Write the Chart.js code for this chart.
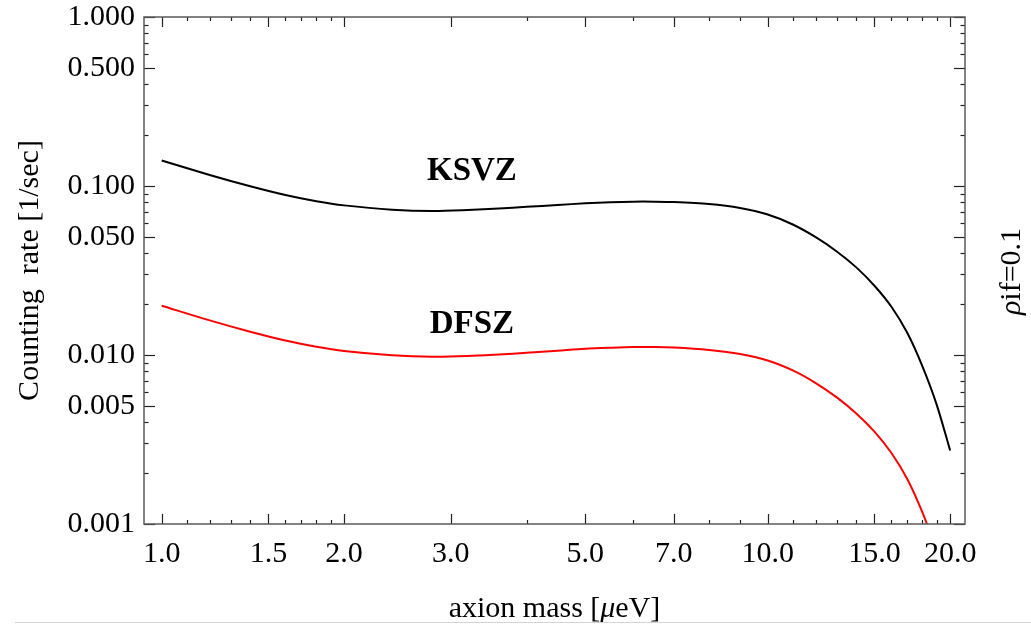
<!DOCTYPE html>
<html>
<head>
<meta charset="utf-8">
<title>Counting rate vs axion mass</title>
<script src="https://cdn.jsdelivr.net/npm/chart.js@4.4.1/dist/chart.umd.min.js"></script>
<style>
  html, body { margin: 0; padding: 0; background: #fff; }
  #wrap { position: relative; width: 1031px; height: 625px; overflow: hidden; }
  #rule { position: absolute; left: 15px; right: 0; top: 622px; border-top: 1px solid #d4d4d4; }
</style>
</head>
<body>
<div id="wrap">
  <canvas id="chart-rate" width="1031" height="625"></canvas>
  <div id="rule"></div>
</div>
<script>
'use strict';

// axion mass [ueV]
const MASS = [1.0, 1.2, 1.4, 1.6, 1.8, 2.0, 2.4, 2.8, 3.2, 3.6, 4.0, 4.5, 5.0, 5.5, 6.0, 6.5, 7.0,
              8.0, 9.0, 10, 11, 12, 13, 14, 15, 16, 17, 18, 19, 20];

// counting rate [1/sec]
const KSVZ = [0.1416, 0.1163, 0.0997, 0.0885, 0.0813, 0.0768, 0.0724, 0.0711, 0.0721, 0.0736,
              0.0753, 0.0772, 0.0790, 0.0802, 0.0808, 0.0808, 0.0804, 0.0782, 0.0741, 0.0678,
              0.0592, 0.0498, 0.0410, 0.0330, 0.0257, 0.0193, 0.01348, 0.00857, 0.00509, 0.00272];
const DFSZ = [0.01957, 0.01602, 0.01373, 0.01218, 0.01119, 0.01057, 0.00997, 0.00977, 0.00986, 0.01007,
              0.01030, 0.01060, 0.01088, 0.01104, 0.01115, 0.01115, 0.01107, 0.01070, 0.01014, 0.00928,
              0.00810, 0.00682, 0.00561, 0.00451, 0.00352, 0.00263, 0.00184, 0.00117, 0.000696, null];

// axis ranges and ticks
const X_RANGE = [0.935, 21.16];
const Y_RANGE = [0.001, 1];
const X_TICKS = [1.0, 1.5, 2.0, 3.0, 5.0, 7.0, 10, 15, 20];
const X_MINOR = [1.1, 1.2, 1.3, 1.4, 1.6, 1.7, 1.8, 1.9, 4, 6, 8, 9, 11, 12, 13, 14, 16, 17, 18, 19];
const Y_TICKS = [0.001, 0.005, 0.01, 0.05, 0.1, 0.5, 1];
const Y_MINOR = [0.002, 0.003, 0.004, 0.006, 0.007, 0.008, 0.009, 0.02, 0.03, 0.04,
                 0.06, 0.07, 0.08, 0.09, 0.2, 0.3, 0.4, 0.6, 0.7, 0.8, 0.9];

// curve names, placed in data coordinates [mass, rate]
const NAMES = [['KSVZ', 3.25, 0.122], ['DFSZ', 3.25, 0.0152]];

(() => {
  const SERIF = '"Liberation Serif", "Times New Roman", serif';

  // draw a run of differently styled text pieces centred on (cx, cy)
  const drawParts = (ctx, parts, cx, cy, rot) => {
    ctx.save();
    ctx.translate(cx, cy);
    ctx.rotate(rot);
    ctx.textAlign = 'left';
    ctx.textBaseline = 'middle';
    ctx.fillStyle = '#000';
    const widths = parts.map(([t, f]) => { ctx.font = f; return ctx.measureText(t).width; });
    let px = -widths.reduce((s, w) => s + w, 0) / 2;
    parts.forEach(([t, f], i) => {
      ctx.font = f;
      ctx.fillText(t, px, 0);
      px += widths[i];
    });
    ctx.restore();
  };

  // frame with inward ticks on all four sides, curve names and side labels
  const framePlugin = {
    id: 'frame',
    afterDraw(chart) {
      const { ctx, chartArea: a, scales: { x, y } } = chart;
      ctx.save();

      const seg = (x0, y0, x1, y1) => {
        ctx.beginPath();
        ctx.moveTo(x0, y0);
        ctx.lineTo(x1, y1);
        ctx.stroke();
      };
      const tickX = (v, len) => {
        const px = Math.round(x.getPixelForValue(v)) + 0.5;
        seg(px, a.bottom, px, a.bottom - len);
        seg(px, a.top, px, a.top + len);
      };
      const tickY = (v, len) => {
        const py = Math.round(y.getPixelForValue(v)) + 0.5;
        seg(a.left, py, a.left + len, py);
        seg(a.right, py, a.right - len, py);
      };

      ctx.strokeStyle = '#222';
      ctx.lineWidth = 1.2;
      X_TICKS.forEach((v) => tickX(v, 10));
      X_MINOR.forEach((v) => tickX(v, 4));
      Y_TICKS.forEach((v) => tickY(v, 11));
      Y_MINOR.forEach((v) => tickY(v, 4.5));

      ctx.strokeStyle = '#5a5a5a';
      ctx.lineWidth = 1.5;
      ctx.strokeRect(a.left, a.top, a.right - a.left, a.bottom - a.top);

      // curve names
      ctx.fillStyle = '#000';
      ctx.font = 'bold 33px ' + SERIF;
      ctx.textAlign = 'center';
      ctx.textBaseline = 'middle';
      NAMES.forEach(([t, m, r]) => ctx.fillText(t, x.getPixelForValue(m), y.getPixelForValue(r)));
      ctx.restore();

      // x axis title with italic mu
      const up = '30px ' + SERIF, it = 'italic 30px ' + SERIF;
      drawParts(ctx, [['axion mass [', up], ['\u03bc', it], ['eV]', up]],
        (a.left + a.right) / 2, 609, 0);

      // density note on the right
      drawParts(ctx, [['\u03c1', it], ['if=0.1', up]],
        a.right + 47, (a.top + a.bottom) / 2 + 1, -Math.PI / 2);
    },
  };

  const toPoints = (ys) => MASS.map((m, i) => ({ x: m, y: ys[i] }));

  new Chart(document.getElementById('chart-rate'), {
    type: 'line',
    data: {
      datasets: [{
        label: 'KSVZ',
        data: toPoints(KSVZ),
        borderColor: '#000',
        borderWidth: 2,
      }, {
        label: 'DFSZ',
        data: toPoints(DFSZ),
        borderColor: '#ff0000',
        borderWidth: 2,
      }],
    },
    options: {
      responsive: false,
      animation: false,
      layout: { padding: { left: 0, right: 66, top: 17, bottom: 0 } },
      datasets: {
        line: {
          pointRadius: 0,
          tension: 0.3,
          clip: 0,
          spanGaps: false,
        },
      },
      plugins: {
        legend: { display: false },
        tooltip: { enabled: false },
      },
      scales: {
        x: {
          type: 'logarithmic',
          min: X_RANGE[0],
          max: X_RANGE[1],
          bounds: 'data',
          grid: { display: false, drawTicks: false },
          border: { display: false },
          ticks: {
            autoSkip: false,
            maxRotation: 0,
            padding: 12,
            color: '#000',
            font: { family: SERIF, size: 30 },
            callback: (v) => Number(v).toFixed(1),
          },
          afterBuildTicks: (s) => { s.ticks = X_TICKS.map((v) => ({ value: v })); },
          afterFit: (s) => {
            s.height = 101;
            s.paddingLeft = 0;
            s.paddingRight = 0;
          },
        },
        y: {
          type: 'logarithmic',
          min: Y_RANGE[0],
          max: Y_RANGE[1],
          bounds: 'data',
          grid: { display: false, drawTicks: false },
          border: { display: false },
          title: {
            display: true,
            text: 'Counting  rate [1/sec]',
            color: '#000',
            font: { family: SERIF, size: 30, lineHeight: 1 },
            padding: { top: 15, bottom: 0 },
          },
          ticks: {
            autoSkip: false,
            padding: 9,
            color: '#000',
            font: { family: SERIF, size: 30 },
            callback: (v) => Number(v).toFixed(3),
          },
          afterBuildTicks: (s) => { s.ticks = Y_TICKS.map((v) => ({ value: v })); },
          afterFit: (s) => {
            s.width = 144;
            s.paddingTop = 0;
            s.paddingBottom = 0;
          },
        },
      },
    },
    plugins: [framePlugin],
  });
})();
</script>
</body>
</html>
